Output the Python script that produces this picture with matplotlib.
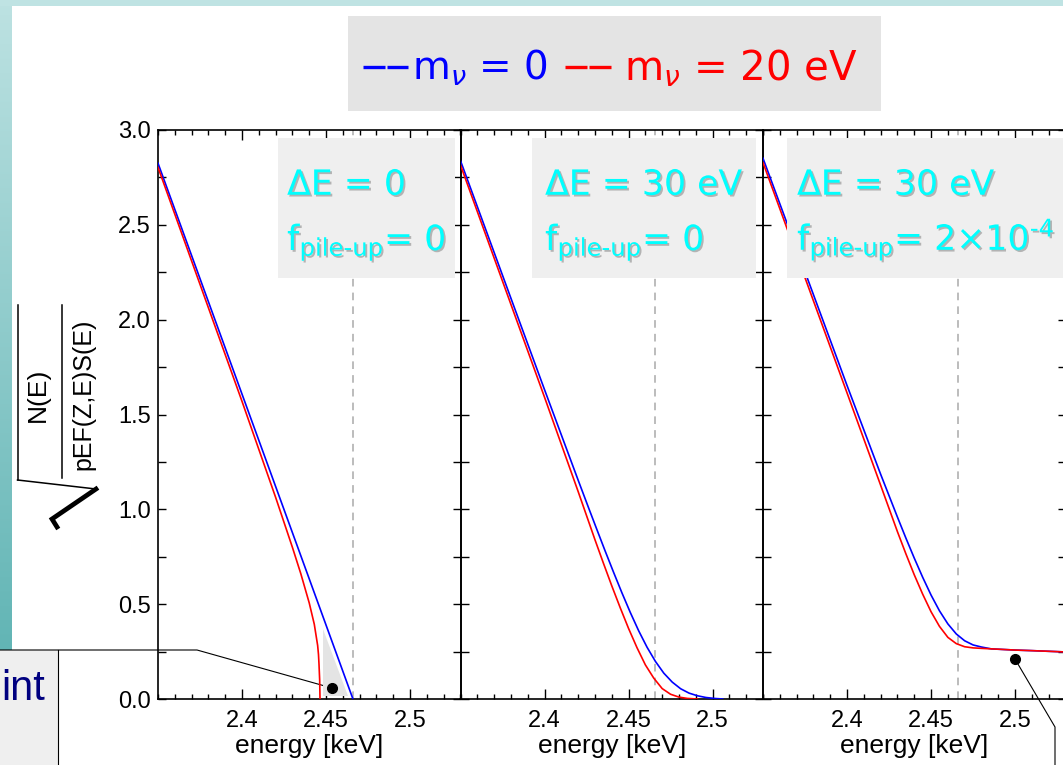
import numpy as np
import matplotlib
matplotlib.use('Agg')
import matplotlib.pyplot as plt
import matplotlib.patheffects as pe
from matplotlib.patches import Rectangle
from matplotlib.ticker import MultipleLocator
from matplotlib.colors import LinearSegmentedColormap

plt.rcParams['font.family'] = ['Liberation Sans', 'DejaVu Sans']
plt.rcParams['mathtext.fontset'] = 'dejavusans'

# Kurie values (energy in keV)
# panel 1: dE = 0, no pile-up
e_blue_1 = [2.35, 2.466]
k_blue_1 = [2.825, 0.0]
e_red_1 = [2.35, 2.40, 2.42, 2.43, 2.435, 2.44, 2.443, 2.445, 2.4455, 2.4458, 2.4462, 2.4464]
k_red_1 = [2.803, 1.569, 1.063, 0.799, 0.660, 0.506, 0.394, 0.282, 0.234, 0.184, 0.10, 0.0]

# panel 2: dE = 30 eV, no pile-up
e_blue_2 = [2.35, 2.38, 2.40, 2.42, 2.426, 2.431, 2.436, 2.441, 2.446, 2.451, 2.456, 2.461,
            2.466, 2.471, 2.476, 2.481, 2.486, 2.491, 2.496, 2.501, 2.506]
k_blue_2 = [2.838, 2.113, 1.631, 1.154, 1.013, 0.897, 0.782, 0.670, 0.561, 0.457, 0.360, 0.273,
            0.198, 0.136, 0.089, 0.054, 0.031, 0.017, 0.008, 0.003, 0.0]
e_red_2 = [2.35, 2.40, 2.42, 2.43, 2.435, 2.44, 2.445, 2.45, 2.455, 2.46, 2.465, 2.47,
           2.475, 2.48, 2.485, 2.491]
k_red_2 = [2.815, 1.591, 1.094, 0.84, 0.717, 0.597, 0.482, 0.372, 0.271, 0.18, 0.11, 0.055,
           0.025, 0.01, 0.003, 0.0]

# panel 3: dE = 30 eV, pile-up 2e-4
e_blue_3 = [2.35, 2.40, 2.42, 2.43, 2.435, 2.44, 2.445, 2.45, 2.455, 2.46, 2.465, 2.47,
            2.475, 2.48, 2.486, 2.491, 2.50, 2.51, 2.52, 2.53]
k_blue_3 = [2.851, 1.653, 1.185, 0.959, 0.849, 0.743, 0.642, 0.548, 0.465, 0.396, 0.343, 0.307,
            0.285, 0.274, 0.264, 0.262, 0.258, 0.255, 0.2515, 0.248]
e_red_3 = [2.35, 2.40, 2.42, 2.43, 2.435, 2.44, 2.445, 2.45, 2.455, 2.46, 2.465, 2.47,
           2.475, 2.48, 2.49, 2.50, 2.51, 2.52, 2.53]
k_red_3 = [2.828, 1.614, 1.127, 0.882, 0.766, 0.655, 0.553, 0.460, 0.383, 0.325, 0.292,
           0.2755, 0.2695, 0.267, 0.2625, 0.258, 0.255, 0.2515, 0.248]

endpoint = 2.466
shade_e = [2.4483, 2.4483, 2.4628]
shade_k = [0.37, 0.015, 0.015]
dot1 = (2.4535, 0.058)
dot3 = (2.500, 0.21)

xtick_vals = [2.4, 2.45, 2.5]
xtick_labels = ['2.4', '2.45', '2.5']
ytick_vals = [0.0, 0.5, 1.0, 1.5, 2.0, 2.5, 3.0]
ytick_labels = ['0.0', '0.5', '1.0', '1.5', '2.0', '2.5', '3.0']

box_line1 = [r'$\Delta$E = 0', r'$\Delta$E = 30 eV', r'$\Delta$E = 30 eV']
box_line2 = [r'f$_{\text{pile-up}}$= 0', r'f$_{\text{pile-up}}$= 0',
             r'f$_{\text{pile-up}}$= 2$\times$10$^{\text{-4}}$']

W, H = 1063, 765
BLUE, RED, CYAN = '#0000ff', '#ff0000', '#00ffff'

fig = plt.figure(figsize=(W / 100, H / 100), dpi=100)


def px_rect(l, t, r, b):
    return [l / W, 1 - b / H, (r - l) / W, (b - t) / H]


# background layer in pixel coordinates
bg = fig.add_axes([0, 0, 1, 1], zorder=0)
teal = LinearSegmentedColormap.from_list('teal', ['#bde2e2', '#62b5b5'])
bg.imshow(np.linspace(0, 1, 256).reshape(-1, 1), cmap=teal, extent=(0, 12, 650, 0),
          aspect='auto', origin='upper')
bg.add_patch(Rectangle((0, 0), W, 6, color='#bfe3e3', lw=0))
bg.set_xlim(0, W)
bg.set_ylim(H, 0)
bg.axis('off')

# legend box
bg.add_patch(Rectangle((348, 16), 533, 95, color='#e4e4e4', lw=0))
for x0, x1 in [(363, 385), (387, 408)]:
    bg.plot([x0, x1], [67, 67], color=BLUE, lw=2.4, solid_capstyle='butt')
for x0, x1 in [(565, 587), (589, 611)]:
    bg.plot([x0, x1], [67, 67], color=RED, lw=2.4, solid_capstyle='butt')
bg.text(412, 80, r'$\mathrm{m}_{\nu}$ = 0', color=BLUE, fontsize=28,
        family='DejaVu Sans', va='baseline')
bg.text(624, 80, r'$\mathrm{m}_{\nu}$ = 20 eV', color=RED, fontsize=29,
        family='DejaVu Sans', va='baseline')

# y label: sqrt( N(E) / pEF(Z,E)S(E) )
bg.text(38, 395, 'N(E)', rotation=90, fontsize=19, ha='center', va='center')
bg.text(83, 394, 'pEF(Z,E)S(E)', rotation=90, fontsize=18, ha='center', va='center')
bg.plot([62, 62], [305, 478], color='black', lw=1.1)
bg.plot([17.5, 17.5], [305, 480], color='black', lw=1.1)
bg.plot([17.5, 96], [480, 489], color='black', lw=1.1)
bg.plot([96, 52, 57], [489, 519, 527], color='black', lw=3.4, solid_joinstyle='miter')

# clipped text box at bottom left
bg.add_patch(Rectangle((0, 650), 58, 115, color='#efefef', lw=0))
bg.plot([58, 58], [650, 765], color='black', lw=0.8)
bg.text(1, 700, 'int', color='#000080', fontsize=30, ha='left', va='baseline')

panels = [
    (e_blue_1, k_blue_1, e_red_1, k_red_1),
    (e_blue_2, k_blue_2, e_red_2, k_red_2),
    (e_blue_3, k_blue_3, e_red_3, k_red_3),
]
lefts = [158, 460.5, 763]
box_x = [(278, 455), (532, 756), (787, 1075)]
text_x = [287, 545, 797]
shadow = [pe.withSimplePatchShadow(offset=(1.3, -1.3), shadow_rgbFace='#9a9a9a', alpha=0.7)]

axes = []
for i, (eb, kb, er, kr) in enumerate(panels):
    left = lefts[i]
    width = 302.5
    ax = fig.add_axes(px_rect(left, 130, left + width, 699), zorder=2)
    ax.set_facecolor('none')
    ax.axvline(endpoint, color='#aaaaaa', lw=1.1, ls=(0, (5, 4)), zorder=1)
    ax.plot(eb, kb, color=BLUE, lw=1.2, zorder=3)
    ax.plot(er, kr, color=RED, lw=1.2, zorder=3)
    ax.set_xlim(2.35, 2.53)
    ax.set_ylim(0, 3.0)
    ax.set_xticks(xtick_vals)
    ax.set_xticklabels(xtick_labels)
    ax.set_yticks(ytick_vals)
    ax.xaxis.set_minor_locator(MultipleLocator(0.01))
    ax.yaxis.set_minor_locator(MultipleLocator(0.25))
    ax.tick_params(which='both', direction='in', top=True, right=True, width=1.0,
                   labelsize=17, colors='black')
    ax.tick_params(axis='x', which='major', length=7, pad=8)
    ax.tick_params(axis='x', which='minor', length=3.5)
    ax.tick_params(axis='y', which='both', length=5.5, pad=5)
    if i == 0:
        ax.set_yticklabels(ytick_labels)
    else:
        ax.set_yticklabels([])
    for s in ax.spines.values():
        s.set_linewidth(1.2)
    ax.set_xlabel('energy [keV]', fontsize=19, labelpad=1)

    # gray annotation box with cyan text (in axes fraction)
    bx0 = (box_x[i][0] - left) / width
    bx1 = (box_x[i][1] - left) / width
    ax.add_patch(Rectangle((bx0, (699 - 278) / 569), bx1 - bx0, 140 / 569,
                           transform=ax.transAxes, color='#efefef', lw=0, zorder=5,
                           clip_on=False))
    tx = (text_x[i] - left) / width
    ax.text(tx, (699 - 195) / 569, box_line1[i], transform=ax.transAxes, color=CYAN,
            fontsize=25, family='DejaVu Sans', va='baseline', zorder=6,
            path_effects=shadow)
    ax.text(tx, (699 - 250) / 569, box_line2[i], transform=ax.transAxes, color=CYAN,
            fontsize=25, family='DejaVu Sans', va='baseline', zorder=6,
            path_effects=shadow)
    axes.append(ax)

axes[0].fill(shade_e, shade_k, color='#e4e4e4', lw=0, zorder=2)
axes[0].plot(*dot1, 'o', color='black', ms=7, zorder=4)
axes[2].plot(*dot3, 'o', color='black', ms=7, zorder=4)


def to_px(ax, pt):
    disp = ax.transData.transform(pt)
    return bg.transData.inverted().transform(disp)


d1 = to_px(axes[0], dot1)
d3 = to_px(axes[2], dot3)
bg.plot([0, 197, d1[0]], [650, 650, d1[1]], color='black', lw=0.8)
bg.plot([d3[0], 1055, 1055], [d3[1], 727, 765], color='black', lw=0.8)

fig.savefig('out.png', dpi=100)
